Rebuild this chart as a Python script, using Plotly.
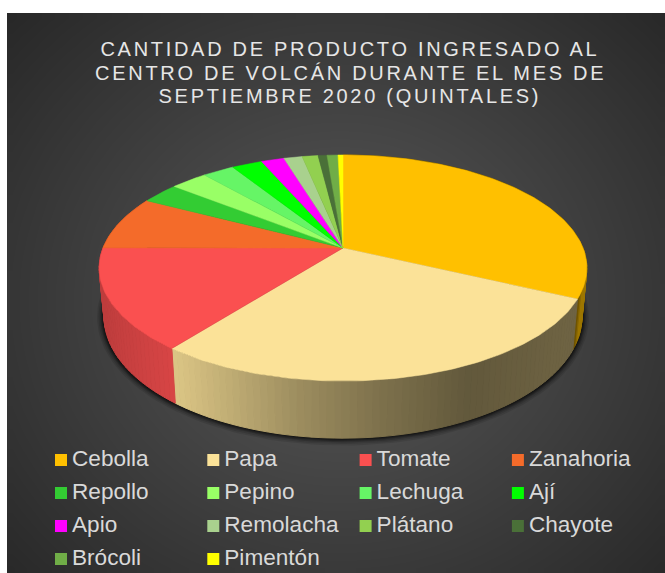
import numpy as np
import plotly.graph_objects as go

# ---- data (estimated quintales) ----
categories = ["Cebolla", "Papa", "Tomate", "Zanahoria", "Repollo", "Pepino", "Lechuga",
              "Ají", "Apio", "Remolacha", "Plátano", "Chayote", "Brócoli", "Pimentón"]
values = [320.5, 284, 145, 77, 30, 29, 25, 24, 18, 14.5, 12.5, 7, 8.6, 3.9]
colors = ["#FFC000", "#FBE298", "#FA5050", "#F46B2A", "#33CC33", "#99FF66", "#66F566",
          "#00FF00", "#FF00FF", "#A9D18E", "#92D050", "#4A7038", "#70AD47", "#FFFF00"]
title_lines = ["CANTIDAD DE PRODUCTO INGRESADO AL",
               "CENTRO DE VOLCÁN DURANTE EL MES DE",
               "SEPTIEMBRE 2020 (QUINTALES)"]

# ---- 3-D pie projection (pixel-unit axes) ----
W, H = 665, 573
CX, CY, A, B, K = 343, 248, 240, 109.5, 0.177
DEPTH, SHRINK = 47, 0.98


def top_pt(th):
    u, v = np.sin(th), -np.cos(th)
    w = 1 - K * v
    return CX + A * u / w, CY + B * v / w


def bot_pt(th):
    x, y = top_pt(th)
    v = -np.cos(th)
    return CX + SHRINK * (x - CX), y + DEPTH / (1 - K * v)


def shade(x):
    return np.interp(x, [99, 176, 300, 380, 470, 570, 579, 581, 590],
                     [.76, .87, .62, .50, .39, .44, .44, .62, .62])


def rgb(hexc, f):
    r, g, b = (int(hexc[i:i + 2], 16) for i in (1, 3, 5))
    return f"rgb({r * f:.0f},{g * f:.0f},{b * f:.0f})"


fractions = np.array(values) / sum(values)
edges = np.concatenate([[0], np.cumsum(fractions)]) * 2 * np.pi

fig = go.Figure()

# panel background (radial gradient); cell centres, so the image spans exactly the panel
nx, ny = 70, 60
dx, dy = (W - 7) / nx, (H - 13) / ny
gx = 7 + dx * (np.arange(nx) + .5)
gy = 13 + dy * (np.arange(ny) + .5)
X, Y = np.meshgrid(gx, gy)
R = np.hypot((X - 340) / 470, (Y - 300) / 430)
fig.add_trace(go.Heatmap(x=gx, y=gy, z=np.clip(1 - R, 0, 1), zmin=0, zmax=1, zsmooth="best",
                         colorscale=[[0, "#262626"], [1, "#5A5A5A"]], showscale=False, hoverinfo="skip"))

# soft shadow below the disc
full = np.linspace(0, 2 * np.pi, 181)
for grow, alpha in zip([7, 5.5, 4, 3, 2, 1], [.10, .12, .16, .2, .25, .3]):
    bx, by = bot_pt(full)
    sx = CX + (bx - CX) * (1 + grow / 240)
    sy = (CY + 58) + (by - (CY + 58)) * (1 + grow / 125)
    fig.add_trace(go.Scatter(x=sx, y=sy, mode="lines", fill="toself", line=dict(width=0),
                             fillcolor=f"rgba(0,0,0,{alpha})", hoverinfo="skip", showlegend=False))

# side wall strips
for i, col in enumerate(colors):
    a0, a1 = edges[i], edges[i + 1]
    if a1 < np.pi / 2 - 0.3 or a0 > 3 * np.pi / 2 + 0.3:
        continue
    n = max(2, int((a1 - a0) / np.radians(1.5)))
    th = np.linspace(a0, a1, n + 1)
    for t0, t1 in zip(th[:-1], th[1:]):
        tx0, ty0 = top_pt(t0)
        tx1, ty1 = top_pt(t1)
        bx0, by0 = bot_pt(t0)
        bx1, by1 = bot_pt(t1)
        c = rgb(col, float(shade((tx0 + tx1) / 2)))
        fig.add_trace(go.Scatter(x=[tx0, tx1, bx1, bx0, tx0], y=[ty0, ty1, by1, by0, ty0],
                                 mode="lines", fill="toself", fillcolor=c, line=dict(color=c, width=1),
                                 hoverinfo="skip", showlegend=False))

# top face slices
for i, (name, col) in enumerate(zip(categories, colors)):
    th = np.linspace(edges[i], edges[i + 1], max(3, int((edges[i + 1] - edges[i]) / np.radians(1)) + 2))
    x, y = top_pt(th)
    fig.add_trace(go.Scatter(x=np.r_[CX, x, CX], y=np.r_[CY, y, CY], mode="lines", fill="toself",
                             fillcolor=col, line=dict(color=col, width=0.5), name=name,
                             hoverinfo="name", showlegend=False))

# legend grid
rows = [i // 4 for i in range(len(categories))]
cols = [i % 4 for i in range(len(categories))]
lx = [61 + 152.3 * c for c in cols]
ly = [460 + 33 * r for r in rows]
fig.add_trace(go.Scatter(x=lx, y=ly, mode="markers", hoverinfo="skip", showlegend=False,
                         marker=dict(symbol="square", size=12, color=colors, line=dict(width=0))))
fig.add_trace(go.Scatter(x=[v + 11 for v in lx], y=ly, mode="text", text=categories, textposition="middle right",
                         textfont=dict(family="Liberation Sans", size=22.6, color="#D9D9D9"),
                         hoverinfo="skip", showlegend=False))

annotations = [dict(x=350, y=49 + 23.5 * i, xref="x", yref="y", text=t, showarrow=False,
                    xanchor="center", yanchor="middle",
                    font=dict(family="Liberation Sans", size=20, color="#E6E6E6"))
               for i, t in enumerate(title_lines)]

fig.update_layout(
    width=W, height=H, margin=dict(l=0, r=0, t=0, b=0), paper_bgcolor="white", plot_bgcolor="white",
    xaxis=dict(range=[0, W], visible=False, fixedrange=True),
    yaxis=dict(range=[H, 0], visible=False, fixedrange=True),
    annotations=annotations, showlegend=False,
)
fig.write_html("out.html", config={"displayModeBar": False}, post_script=
               "document.body.style.margin='0';"
               "document.querySelectorAll('.annotation-text').forEach(function(e){e.style.letterSpacing='2.7px';});")
